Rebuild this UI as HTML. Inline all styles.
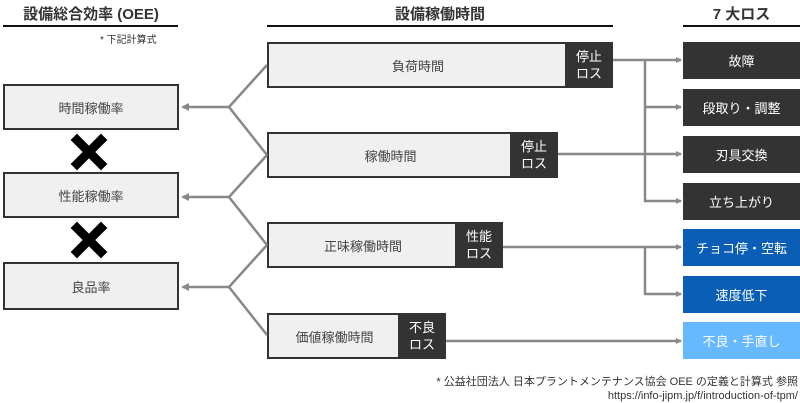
<!DOCTYPE html>
<html><head><meta charset="utf-8"><style>
body{margin:0;width:800px;height:403px;position:relative;background:#fff;font-family:"Liberation Sans","Noto Sans CJK JP",sans-serif;overflow:hidden}
.a{position:absolute}
.h{font-size:15px;font-weight:bold;color:#333;text-align:center}
.ul{position:absolute;height:2px;background:#111}
.lb{position:absolute;box-sizing:border-box;border:2px solid #333;background:#f0f0f0;color:#444;font-size:13px;display:flex;align-items:center;justify-content:center}
.mb{position:absolute;box-sizing:border-box;border:2px solid #333;background:#f0f0f0;color:#444;font-size:13px}
.mb .t{position:absolute;left:0;top:0;bottom:0;display:flex;align-items:center;justify-content:center}
.mb .d{position:absolute;top:-2px;bottom:-2px;right:-2px;width:48px;background:#333;color:#fff;font-size:13px;line-height:17px;display:flex;align-items:center;justify-content:center;text-align:center}
.rb{position:absolute;left:683px;width:117px;height:37px;color:#fff;font-size:13px;display:flex;align-items:center;justify-content:center;background:#333}
</style></head><body>
<div class="a h" style="left:3px;width:176px;top:3px">設備総合効率 (OEE)</div>
<div class="ul" style="left:3px;width:175px;top:25px"></div>
<div class="a" style="left:100px;top:31px;font-size:10px;color:#333">* 下記計算式</div>
<div class="a h" style="left:267px;width:346px;top:3px">設備稼働時間</div>
<div class="ul" style="left:267px;width:346px;top:25px"></div>
<div class="a h" style="left:683px;width:117px;top:3px">7 大ロス</div>
<div class="ul" style="left:683px;width:117px;top:25px"></div>

<div class="lb" style="left:3px;top:84px;width:176px;height:46px">時間稼働率</div>
<div class="lb" style="left:3px;top:172px;width:176px;height:46px">性能稼働率</div>
<div class="lb" style="left:3px;top:262px;width:176px;height:48px">良品率</div>

<div class="mb" style="left:267px;top:42px;width:346px;height:46px"><div class="t" style="width:298px">負荷時間</div><div class="d">停止<br>ロス</div></div>
<div class="mb" style="left:267px;top:132px;width:291px;height:46px"><div class="t" style="width:243px">稼働時間</div><div class="d">停止<br>ロス</div></div>
<div class="mb" style="left:267px;top:222px;width:236px;height:46px"><div class="t" style="width:188px">正味稼働時間</div><div class="d">性能<br>ロス</div></div>
<div class="mb" style="left:267px;top:313px;width:179px;height:46px"><div class="t" style="width:131px">価値稼働時間</div><div class="d">不良<br>ロス</div></div>

<div class="rb" style="top:42px">故障</div>
<div class="rb" style="top:89px">段取り・調整</div>
<div class="rb" style="top:136px">刃具交換</div>
<div class="rb" style="top:183px">立ち上がり</div>
<div class="rb" style="top:229px;background:#0a5eb5">チョコ停・空転</div>
<div class="rb" style="top:276px;background:#0a5eb5">速度低下</div>
<div class="rb" style="top:322px;background:#66b8ff">不良・手直し</div>

<svg class="a" style="left:0;top:0" width="800" height="403">
<defs><marker id="ar" markerWidth="6" markerHeight="6" refX="5" refY="3" orient="auto" markerUnits="userSpaceOnUse"><path d="M0,0 L6,3 L0,6 Z" fill="#888"/></marker>
<marker id="al" markerWidth="8" markerHeight="8" refX="6" refY="4" orient="auto" markerUnits="userSpaceOnUse"><path d="M0,0 L8,4 L0,8 Z" fill="#888"/></marker></defs>
<g stroke="#888" stroke-width="2.5" fill="none">
<path d="M267,65 L229,107 L267,155 M267,155 L229,197 L267,245 M267,245 L229,287 L267,335"/>
<path d="M229,107 L183,107" marker-end="url(#al)"/>
<path d="M229,197 L183,197" marker-end="url(#al)"/>
<path d="M229,287 L183,287" marker-end="url(#al)"/>
<path d="M613,60 L681,60" marker-end="url(#ar)"/>
<path d="M645,60 L645,201 L681,201" marker-end="url(#ar)"/>
<path d="M645,107 L681,107" marker-end="url(#ar)"/>
<path d="M558,154 L681,154" marker-end="url(#ar)"/>
<path d="M503,247 L681,247" marker-end="url(#ar)"/>
<path d="M645,247 L645,294 L681,294" marker-end="url(#ar)"/>
<path d="M446,341 L681,341" marker-end="url(#ar)"/>
</g>
<g fill="#000"><path d="M90,139 l7,0 l0,0" /></g>
<g stroke="#000" stroke-width="9" stroke-linecap="square">
<path d="M77,140 L101,164 M101,140 L77,164"/>
<path d="M77,228 L101,252 M101,228 L77,252"/>
</g>
</svg>
<div class="a" style="right:2px;top:375px;font-size:11px;color:#333;text-align:right;line-height:14px">* 公益社団法人 日本プラントメンテナンス協会 OEE の定義と計算式 参照<br>https://info-jipm.jp/f/introduction-of-tpm/</div>
</body></html>
